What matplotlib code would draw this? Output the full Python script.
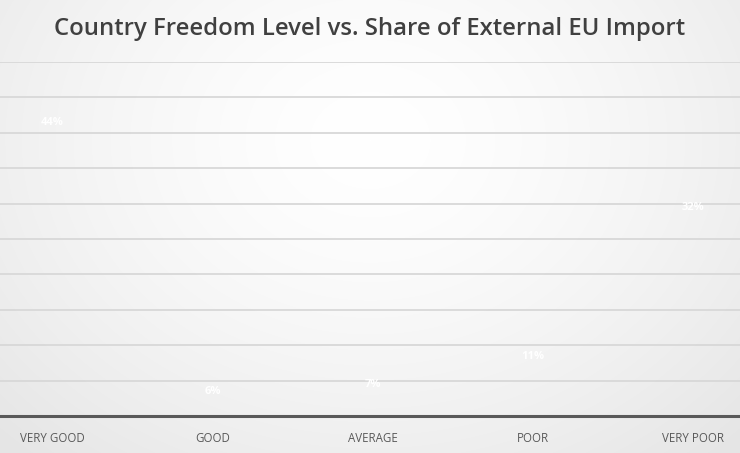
import matplotlib.pyplot as plt
import numpy as np

categories = ["VERY GOOD", "GOOD", "AVERAGE", "POOR", "VERY POOR"]
share = [44, 6, 7, 11, 32]   # percent of external EU import
labels = ["44%", "6%", "7%", "11%", "32%"]

fig = plt.figure(figsize=(7.4, 4.53), dpi=100)

# radial grey background
bg = fig.add_axes([0, 0, 1, 1], zorder=0)
yy, xx = np.mgrid[0:453, 0:740]
r = np.sqrt(((xx - 370) / 520.0) ** 2 + ((yy - 140) / 420.0) ** 2)
shade = 1.0 - 0.10 * np.clip(r, 0, 1) ** 1.5
bg.imshow(np.dstack([shade] * 3), aspect="auto", extent=[0, 1, 0, 1])
bg.axis("off")

ax = fig.add_axes([0, 1 - 416 / 453, 1, (416 - 62) / 453], zorder=1)
ax.patch.set_alpha(0)
x = np.arange(len(categories))
bars = ax.bar(x, share, width=0.6, color="none", edgecolor="none")
ax.bar_label(bars, labels=labels, padding=-17, color="white",
             fontsize=8, fontweight="bold", family="Open Sans")

ax.set_xlim(-0.325, 4.29)
ax.set_ylim(0, 50)
ax.set_yticks(np.arange(5, 51, 5))
ax.yaxis.grid(True, color="#d8d8d8", linewidth=1.3)
ax.set_axisbelow(True)
ax.tick_params(axis="y", left=False, labelleft=False)
ax.tick_params(axis="x", bottom=False, pad=8, labelsize=8.3, labelcolor="#595959")
ax.set_xticks(x)
ax.set_xticklabels(categories, family="Open Sans")
for s in ["top", "left", "right"]:
    ax.spines[s].set_visible(False)
ax.spines["bottom"].set_color("#595959")
ax.spines["bottom"].set_linewidth(2.2)

fig.text(0.5, 1 - 29 / 453, "Country Freedom Level vs. Share of External EU Import",
         ha="center", va="center", fontsize=17.2, fontweight="semibold",
         color="#404040", family="Open Sans")

fig.savefig("out.png", dpi=100)
